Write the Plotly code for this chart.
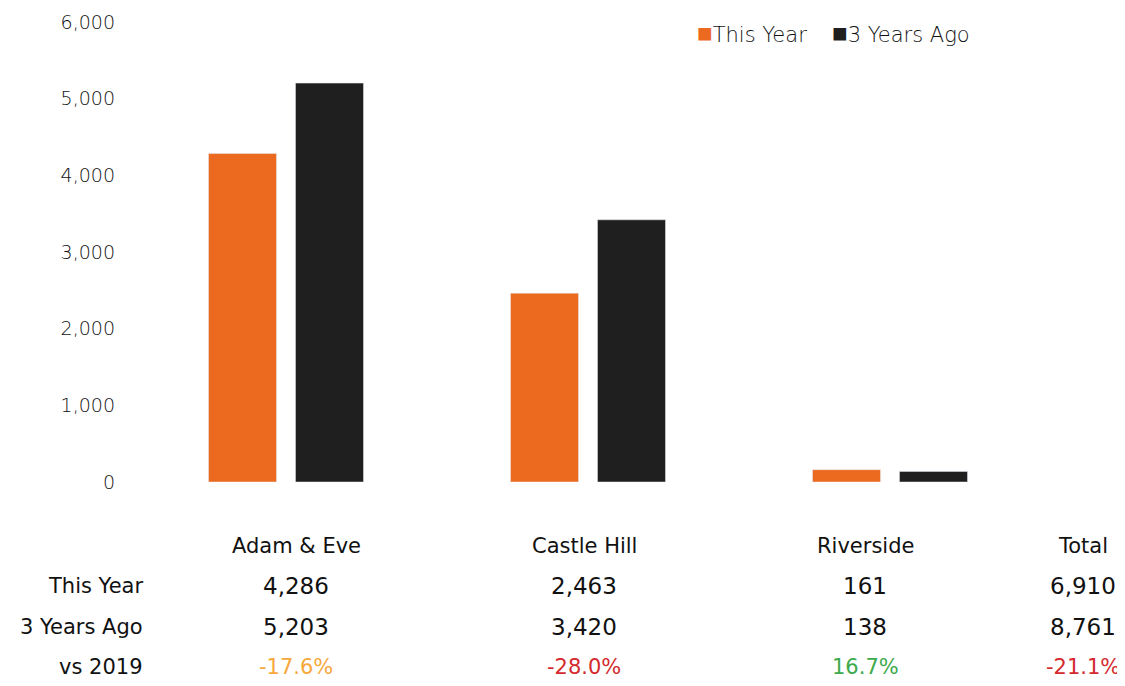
import plotly.graph_objects as go

categories = ["Adam & Eve", "Castle Hill", "Riverside"]
this_year = [4286, 2463, 161]
three_years_ago = [5203, 3420, 138]
row_labels = ["This Year", "3 Years Ago", "vs 2019"]
y_ticks = [0, 1000, 2000, 3000, 4000, 5000, 6000]
pct_colors = ["#F7A83C", "#D42A2E", "#3DAA4C", "#D42A2E"]

ORANGE = "#EC6A1F"
BLACK = "#1F1F1F"
OFF = 8  # page body offset
W, H = 1125 - OFF, 686 - OFF
L, R, T, B = 135 - OFF, 84, 22 - OFF, 204

fig = go.Figure()
fig.add_trace(go.Bar(x=categories, y=this_year, name="This Year", marker_color=ORANGE))
fig.add_trace(go.Bar(x=categories, y=three_years_ago, name="3 Years Ago", marker_color=BLACK))

def px_to_paper(px):
    return (px - OFF - L) / (W - L - R)

def py_to_paper(py):
    return (H - B - (py - OFF)) / (H - T - B)

tot_this = sum(this_year)
tot_ago = sum(three_years_ago)
col_names = categories + ["Total"]
col_this = this_year + [tot_this]
col_ago = three_years_ago + [tot_ago]
col_x = [296, 584, 865, 1083]
row_y = [546, 586, 627, 667]

ann = []
tf = dict(family="DejaVu Sans, Verdana, sans-serif", size=21, color="#111111")
for i, name in enumerate(col_names):
    pct = (col_this[i] - col_ago[i]) / col_ago[i] * 100
    vals = [name, f"{col_this[i]:,}", f"{col_ago[i]:,}", f"{pct:.1f}%"]
    for j, v in enumerate(vals):
        f = dict(tf)
        if j == 3:
            f["color"] = pct_colors[i]
        if j in (1, 2):
            f["size"] = 23
        ann.append(dict(x=px_to_paper(col_x[i]), y=py_to_paper(row_y[j]), xref="paper", yref="paper",
                        text=v, showarrow=False, xanchor="center", yanchor="middle", font=f))
for j, lab in enumerate(row_labels):
    ann.append(dict(x=px_to_paper(145), y=py_to_paper(row_y[j + 1]), xref="paper", yref="paper",
                    text=lab, showarrow=False, xanchor="right", yanchor="middle", font=tf))

# legend drawn as text
lf = dict(family="DejaVu Sans, sans-serif", size=21, color="#111111", weight=300)
for name, col, x0 in [("This Year", ORANGE, 695), ("3 Years Ago", BLACK, 830)]:
    ann.append(dict(x=px_to_paper(x0), y=py_to_paper(33), xref="paper", yref="paper",
                    text=f"<span style='color:{col};font-size:26px'>■</span>{name}", showarrow=False,
                    xanchor="left", yanchor="middle", font=lf))

fig.update_layout(
    width=W, height=H,
    margin=dict(l=L, r=R, t=T, b=B, autoexpand=False),
    plot_bgcolor="white", paper_bgcolor="white",
    barmode="group", bargap=0.424, bargroupgap=0.218,
    showlegend=False,
    xaxis=dict(showticklabels=False, showgrid=False, zeroline=False, showline=False, automargin=False),
    yaxis=dict(range=[0, 6000], tickvals=y_ticks, tickformat=",", showgrid=False, zeroline=False,
               showline=False, ticklabelstandoff=19, automargin=False,
               tickfont=dict(family="DejaVu Sans, sans-serif", size=19, color="#111111", weight=300)),
    annotations=ann,
)
fig.write_html("out.html")
